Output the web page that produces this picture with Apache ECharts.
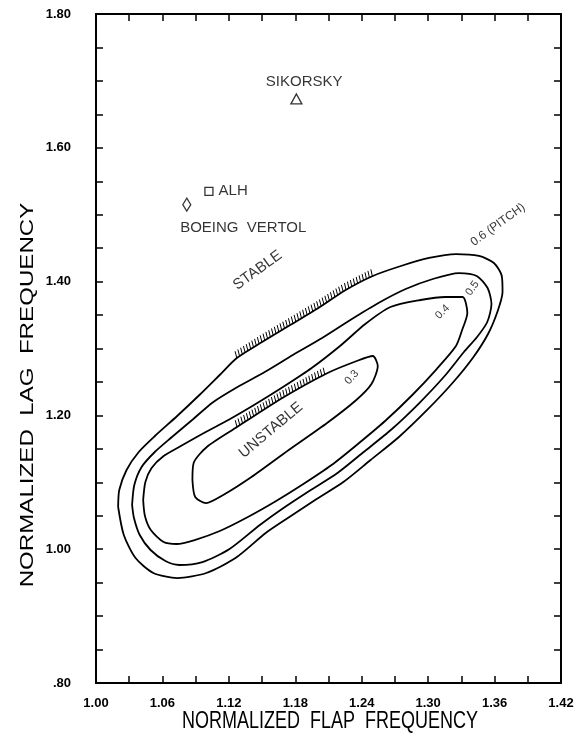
<!DOCTYPE html>
<html>
<head>
<meta charset="utf-8">
<script src="https://cdn.jsdelivr.net/npm/echarts@6/dist/echarts.min.js"></script>
<style>
  html, body { margin: 0; padding: 0; background: #fff; }
  #chart { width: 581px; height: 741px; }
</style>
</head>
<body>
<div id="chart"></div>
<script>
// Flap / lag frequency axes
const flapTicks = [1.00, 1.06, 1.12, 1.18, 1.24, 1.30, 1.36, 1.42];
const lagTicks = [0.80, 1.00, 1.20, 1.40, 1.60, 1.80];

// Stability boundaries, labelled by pitch-lag coupling (flap, lag)
const contour06 = [
  [1.0200, 1.0631], [1.0210, 1.0885], [1.0276, 1.1184], [1.0386, 1.1453], [1.0532, 1.1692],
  [1.0733, 1.1991], [1.0934, 1.2305], [1.1117, 1.2604], [1.1272, 1.2858], [1.1500, 1.3097],
  [1.1754, 1.3351], [1.2009, 1.3605], [1.2255, 1.3874], [1.2500, 1.4084], [1.2754, 1.4233],
  [1.3008, 1.4353], [1.3252, 1.4412], [1.3459, 1.4383], [1.3594, 1.4278], [1.3665, 1.4084],
  [1.3672, 1.3844], [1.3625, 1.3545], [1.3541, 1.3217], [1.3403, 1.2858], [1.3220, 1.2484],
  [1.2991, 1.2081], [1.2736, 1.1677], [1.2480, 1.1333], [1.2234, 1.1004], [1.1979, 1.0735],
  [1.1733, 1.0466], [1.1533, 1.0242], [1.1260, 0.9868], [1.0996, 0.9644], [1.0734, 0.9569],
  [1.0518, 0.9644], [1.0357, 0.9868], [1.0251, 1.0212], [1.0200, 1.0631]
];
const contour05 = [
  [1.0326, 1.0661], [1.0346, 1.0959], [1.0412, 1.1229], [1.0531, 1.1453], [1.0686, 1.1677],
  [1.0868, 1.1931], [1.1060, 1.2200], [1.1278, 1.2424], [1.1524, 1.2649], [1.1778, 1.2903],
  [1.2042, 1.3157], [1.2297, 1.3426], [1.2551, 1.3680], [1.2797, 1.3889], [1.3042, 1.4039],
  [1.3277, 1.4128], [1.3439, 1.4084], [1.3537, 1.3904], [1.3572, 1.3665], [1.3534, 1.3396],
  [1.3442, 1.3172], [1.3323, 1.2948], [1.3149, 1.2589], [1.2920, 1.2185], [1.2673, 1.1797],
  [1.2418, 1.1453], [1.2181, 1.1139], [1.1926, 1.0870], [1.1680, 1.0601], [1.1480, 1.0362],
  [1.1206, 1.0003], [1.0961, 0.9808], [1.0753, 0.9764], [1.0627, 0.9823], [1.0493, 0.9988],
  [1.0395, 1.0212], [1.0343, 1.0466], [1.0326, 1.0661]
];
const contour04 = [
  [1.0426, 1.0735], [1.0446, 1.1004], [1.0502, 1.1214], [1.0611, 1.1393], [1.0766, 1.1542],
  [1.0975, 1.1737], [1.1211, 1.1946], [1.1457, 1.2185], [1.1703, 1.2439], [1.1948, 1.2708],
  [1.2204, 1.3037], [1.2432, 1.3366], [1.2659, 1.3620], [1.2931, 1.3725], [1.3157, 1.3770],
  [1.3311, 1.3770], [1.3354, 1.3531], [1.3307, 1.3276], [1.3251, 1.3037], [1.3077, 1.2693],
  [1.2857, 1.2305], [1.2611, 1.1916], [1.2365, 1.1572], [1.2128, 1.1258], [1.1873, 1.0974],
  [1.1627, 1.0720], [1.1372, 1.0481], [1.1118, 1.0272], [1.0891, 1.0137], [1.0728, 1.0078],
  [1.0611, 1.0107], [1.0495, 1.0287], [1.0442, 1.0496], [1.0426, 1.0735]
];
const contour03 = [
  [1.0871, 1.1034], [1.0882, 1.1288], [1.1001, 1.1528], [1.1274, 1.1826], [1.1683, 1.2260],
  [1.2092, 1.2634], [1.2355, 1.2813], [1.2500, 1.2888], [1.2545, 1.2738], [1.2488, 1.2469],
  [1.2351, 1.2230], [1.2087, 1.1886], [1.1741, 1.1483], [1.1404, 1.1079], [1.1149, 1.0810],
  [1.0995, 1.0690], [1.0896, 1.0780], [1.0871, 1.1034]
];

// Rotor designs
const rotorNames = ['SIKORSKY', 'ALH', 'BOEING VERTOL'];
const rotorFlap = [1.181, 1.102, 1.082];
const rotorLag = [1.673, 1.535, 1.515];

const INK = '#000';
const FONT = '"Liberation Sans", Arial, sans-serif';

// Short strokes along the unstable-side edge of a boundary
function hatchSeries(points) {
  return {
    type: 'custom',
    coordinateSystem: 'cartesian2d',
    silent: true,
    clip: false,
    z: 3,
    data: [points[0]],
    renderItem: function (params, api) {
      const px = points.map(p => api.coord(p));
      const children = [];
      const step = 3.3, len = 7;
      let carry = 0;
      for (let i = 0; i < px.length - 1; i++) {
        const x0 = px[i][0], y0 = px[i][1];
        const dx = px[i + 1][0] - x0, dy = px[i + 1][1] - y0;
        const L = Math.hypot(dx, dy);
        const ux = dx / L, uy = dy / L;
        let nx = uy, ny = -ux;
        if (ny > 0) { nx = -nx; ny = -ny; }
        let hx = nx, hy = ny - 1.2;
        const hn = Math.hypot(hx, hy);
        hx /= hn; hy /= hn;
        let t = carry;
        for (; t < L; t += step) {
          const bx = x0 + ux * t, by = y0 + uy * t;
          children.push({
            type: 'line',
            shape: { x1: bx, y1: by, x2: bx + hx * len, y2: by + hy * len },
            style: { stroke: INK, lineWidth: 1 }
          });
        }
        carry = t - L;
      }
      return { type: 'group', children: children };
    }
  };
}

function boundary(name, pts) {
  return {
    name: name,
    type: 'line',
    data: pts,
    smooth: 0.25,
    symbol: 'none',
    clip: false,
    silent: true,
    z: 2,
    lineStyle: { color: INK, width: 1.8 }
  };
}

// Text placed in flap/lag coordinates
const notes = [
  { text: 'SIKORSKY', at: [1.188, 1.698], rotate: 0, size: 15 },
  { text: 'BOEING  VERTOL', at: [1.133, 1.480], rotate: 0, size: 15 },
  { text: 'STABLE', at: [1.146, 1.417], rotate: 36, size: 15 },
  { text: 'UNSTABLE', at: [1.158, 1.178], rotate: 40, size: 15 },
  { text: '0.3', at: [1.231, 1.257], rotate: 48, size: 11 },
  { text: '0.4', at: [1.313, 1.3545], rotate: 45, size: 11 },
  { text: '0.5', at: [1.340, 1.390], rotate: 55, size: 11 },
  { text: '0.6 (PITCH)', at: [1.363, 1.485], rotate: 36, size: 12 }
];

const symbolShapes = ['triangle', 'rect', 'diamond'];
const symbolSizes = [[11, 10], [8, 8], [8, 13]];

const axisCommon = {
  axisLine: { show: true, onZero: false, lineStyle: { color: INK, width: 2 } },
  axisTick: { show: true, inside: true, length: 7, lineStyle: { color: INK, width: 1.5 } },
  minorTick: { show: true, length: 7, lineStyle: { color: INK, width: 1.5 } },
  splitLine: { show: false },
  minorSplitLine: { show: false }
};

const tickLabel = { show: true, color: INK, fontFamily: FONT, fontSize: 13, fontWeight: 'bold' };

const chart = echarts.init(document.getElementById('chart'), null, { renderer: 'canvas' });

const option = {
  backgroundColor: '#fff',
  animation: false,
  grid: { left: 96, top: 14, width: 465, height: 669, containLabel: false },
  xAxis: [
    Object.assign({}, axisCommon, {
      type: 'value', position: 'bottom',
      min: flapTicks[0], max: flapTicks[flapTicks.length - 1],
      interval: 0.06,
      minorTick: Object.assign({}, axisCommon.minorTick, { splitNumber: 2 }),
      axisLabel: Object.assign({}, tickLabel, { margin: 14, formatter: v => v.toFixed(2) })
    }),
    Object.assign({}, axisCommon, {
      type: 'value', position: 'top',
      min: flapTicks[0], max: flapTicks[flapTicks.length - 1],
      interval: 0.06,
      minorTick: Object.assign({}, axisCommon.minorTick, { splitNumber: 2 }),
      axisLabel: { show: false }
    })
  ],
  yAxis: [
    Object.assign({}, axisCommon, {
      type: 'value', position: 'left',
      min: lagTicks[0], max: lagTicks[lagTicks.length - 1],
      interval: 0.2,
      minorTick: Object.assign({}, axisCommon.minorTick, { splitNumber: 4 }),
      axisLabel: Object.assign({}, tickLabel, {
        margin: 25, formatter: v => v.toFixed(2).replace(/^0/, '')
      })
    }),
    Object.assign({}, axisCommon, {
      type: 'value', position: 'right',
      min: lagTicks[0], max: lagTicks[lagTicks.length - 1],
      interval: 0.2,
      minorTick: Object.assign({}, axisCommon.minorTick, { splitNumber: 4 }),
      axisLabel: { show: false }
    })
  ],
  // Axis titles, drawn tall and narrow like plotter lettering
  graphic: [
    {
      type: 'text', x: 330, y: 722, scaleY: 1.3, silent: true,
      style: {
        text: 'NORMALIZED  FLAP  FREQUENCY', fill: INK,
        font: '18px "Liberation Sans", Arial, sans-serif',
        align: 'center', verticalAlign: 'middle',
        textAlign: 'center', textVerticalAlign: 'middle'
      }
    },
    {
      type: 'text', x: 28, y: 395, rotation: Math.PI / 2, scaleX: 1.34, silent: true,
      style: {
        text: 'NORMALIZED  LAG  FREQUENCY', fill: INK,
        font: '18px "Liberation Sans", Arial, sans-serif',
        align: 'center', verticalAlign: 'middle',
        textAlign: 'center', textVerticalAlign: 'middle'
      }
    }
  ],
  series: [
    boundary('0.6', contour06),
    boundary('0.5', contour05),
    boundary('0.4', contour04),
    boundary('0.3', contour03),
    hatchSeries(contour06.slice(8, 14)),
    hatchSeries(contour03.slice(3, 6)),
    {
      name: 'rotors',
      type: 'scatter',
      z: 4,
      data: rotorNames.map((n, i) => ({
        name: n,
        value: [rotorFlap[i], rotorLag[i]],
        symbol: symbolShapes[i],
        symbolSize: symbolSizes[i],
        label: n === 'ALH'
          ? { show: true, position: 'right', distance: 5, formatter: '{b}',
              color: INK, fontFamily: FONT, fontSize: 15 }
          : { show: false }
      })),
      itemStyle: { color: '#fff', borderColor: INK, borderWidth: 1.3 }
    },
    {
      name: 'notes',
      type: 'scatter',
      silent: true,
      z: 5,
      symbolSize: 0,
      data: notes.map(n => ({
        name: n.text,
        value: n.at,
        label: {
          show: true, position: 'inside', formatter: '{b}', rotate: n.rotate,
          color: INK, fontFamily: FONT, fontSize: n.size,
          backgroundColor: n.size < 13 ? '#fff' : 'transparent', padding: [0, 1]
        }
      }))
    }
  ]
};

chart.setOption(option);
</script>
</body>
</html>
